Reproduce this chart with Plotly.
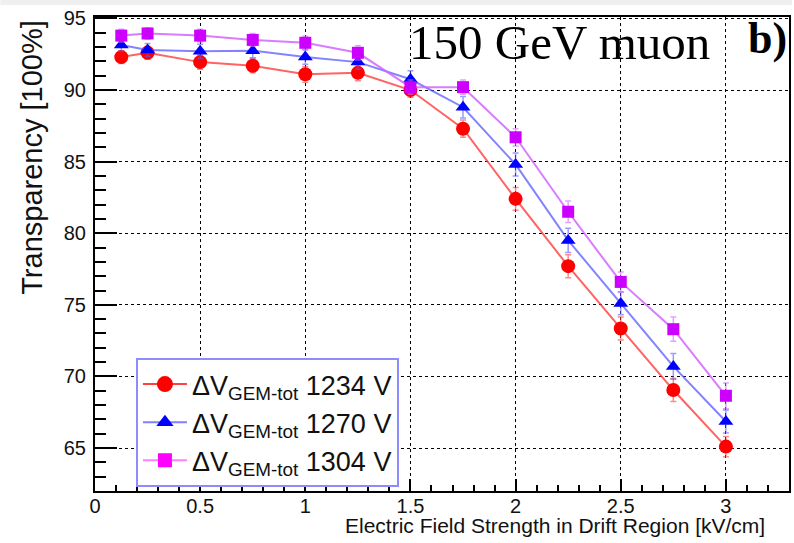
import plotly.graph_objects as go

# ---- data ----
field = [0.125, 0.25, 0.5, 0.75, 1.0, 1.25, 1.5, 1.75, 2.0, 2.25, 2.5, 2.75, 3.0]
t1234 = [92.3, 92.6, 91.95, 91.7, 91.1, 91.2, 90.0, 87.3, 82.4, 77.7, 73.35, 69.05, 65.1]
e1234 = [0.45, 0.45, 0.5, 0.5, 0.55, 0.55, 0.5, 0.6, 0.8, 0.8, 0.8, 0.8, 0.7]
t1270 = [93.15, 92.8, 92.7, 92.75, 92.3, 91.95, 90.75, 88.8, 84.8, 79.5, 75.1, 70.7, 66.85]
e1270 = [0.45, 0.45, 0.5, 0.5, 0.5, 0.5, 0.6, 0.75, 0.8, 0.85, 0.8, 0.9, 0.8]
t1304 = [93.8, 93.95, 93.8, 93.5, 93.3, 92.6, 90.2, 90.2, 86.7, 81.5, 76.6, 73.3, 68.65]
e1304 = [0.45, 0.4, 0.45, 0.45, 0.45, 0.5, 0.5, 0.5, 0.6, 0.75, 0.7, 0.85, 0.9]

series_names = ["ΔV<sub>GEM-tot</sub> 1234 V", "ΔV<sub>GEM-tot</sub> 1270 V", "ΔV<sub>GEM-tot</sub> 1304 V"]
x_ticks = [0, 0.5, 1, 1.5, 2, 2.5, 3]
x_ticktext = ["0", "0.5", "1", "1.5", "2", "2.5", "3"]
y_ticks = [65, 70, 75, 80, 85, 90, 95]

styles = [
    dict(y=t1234, e=e1234, mcol="#ff0000", lcol="rgba(255,60,60,0.8)", ecol="rgba(255,60,60,0.6)",
         sym="circle", size=14, legcol="#ff0000", leglcol="#ff4040"),
    dict(y=t1270, e=e1270, mcol="#0000ff", lcol="rgba(90,90,255,0.75)", ecol="rgba(90,90,255,0.6)",
         sym="triangle-up", size=13, legcol="#0000ff", leglcol="#8080ff"),
    dict(y=t1304, e=e1304, mcol="#cc00ff", lcol="rgba(210,100,255,0.85)", ecol="rgba(210,100,255,0.6)",
         sym="square", size=12, legcol="#ff00ff", leglcol="#ff80ff"),
]

fig = go.Figure()
for name, s in zip(series_names, styles):
    fig.add_trace(go.Scatter(
        x=field, y=s["y"], mode="lines+markers", name=name, showlegend=False,
        line=dict(color=s["lcol"], width=2),
        marker=dict(color=s["mcol"], symbol=s["sym"], size=s["size"], line=dict(width=0)),
        error_y=dict(type="data", array=s["e"], color=s["ecol"], thickness=1.5, width=3),
    ))
for name, s in zip(series_names, styles):
    fig.add_trace(go.Scatter(
        x=[None], y=[None], mode="lines+markers", name=name, showlegend=True,
        line=dict(color=s["leglcol"], width=2),
        marker=dict(color=s["legcol"], symbol=s["sym"], size=s["size"] + 2, line=dict(width=0)),
    ))

axis_font = dict(family="Liberation Sans, Arial, sans-serif", size=20, color="#111")

fig.update_layout(
    width=794, height=543,
    margin=dict(l=95, r=3, t=17, b=52),
    paper_bgcolor="white", plot_bgcolor="white",
    xaxis=dict(
        range=[0, 3.3], tickvals=x_ticks, ticktext=x_ticktext,
        ticks="inside", ticklen=12, tickwidth=1.5, tickcolor="black",
        showline=True, linecolor="black", linewidth=2, mirror=True,
        showgrid=True, gridcolor="black", griddash="dot", gridwidth=1,
        zeroline=False, tickfont=axis_font, ticklabelstandoff=-4,
        minor=dict(dtick=0.1, tick0=0, ticks="inside", ticklen=6, tickwidth=1.5,
                   tickcolor="black", showgrid=False),
    ),
    yaxis=dict(
        range=[62.0, 95.1], tickvals=y_ticks,
        ticks="inside", ticklen=22, tickwidth=1.5, tickcolor="black",
        showline=True, linecolor="black", linewidth=2, mirror=True,
        showgrid=True, gridcolor="black", griddash="dot", gridwidth=1,
        zeroline=False, tickfont=axis_font, ticklabelstandoff=3,
        minor=dict(dtick=1, tick0=0, ticks="inside", ticklen=11, tickwidth=1.5,
                   tickcolor="black", showgrid=False),
    ),
    legend=dict(
        x=0.059, y=0.2806, xanchor="left", yanchor="top",
        bgcolor="white", bordercolor="#8c8cff", borderwidth=2,
        font=dict(family="Liberation Sans, Arial, sans-serif", size=27, color="#111"),
        tracegroupgap=0, itemwidth=44,
    ),
    annotations=[
        dict(text="150 GeV muon", xref="paper", yref="paper", x=0.6686, y=0.947,
             xanchor="center", yanchor="middle", showarrow=False,
             font=dict(family="Liberation Serif, Times New Roman, serif", size=49, color="black")),
        dict(text="<b>b)</b>", xref="paper", yref="paper", x=1.0005, y=0.955,
             xanchor="right", yanchor="middle", showarrow=False,
             font=dict(family="Liberation Serif, Times New Roman, serif", size=44, color="black")),
        dict(text="Transparency [100%]", xref="paper", yref="paper", x=-0.0911, y=0.7046,
             xanchor="center", yanchor="middle", textangle=-90, showarrow=False,
             font=dict(family="Liberation Sans, Arial, sans-serif", size=29, color="#111")),
        dict(text="Electric Field Strength in Drift Region [kV/cm]", xref="paper", yref="paper",
             x=0.9684, y=-0.072, xanchor="right", yanchor="middle", showarrow=False,
             font=dict(family="Liberation Sans, Arial, sans-serif", size=21, color="#111")),
    ],
    shapes=[
        dict(type="rect", xref="paper", yref="paper", x0=-0.1363, x1=1.0043, y0=1.0253, y1=1.0359,
             fillcolor="#efefef", line=dict(width=0), layer="below"),
    ],
)

fig.write_html("out.html")
